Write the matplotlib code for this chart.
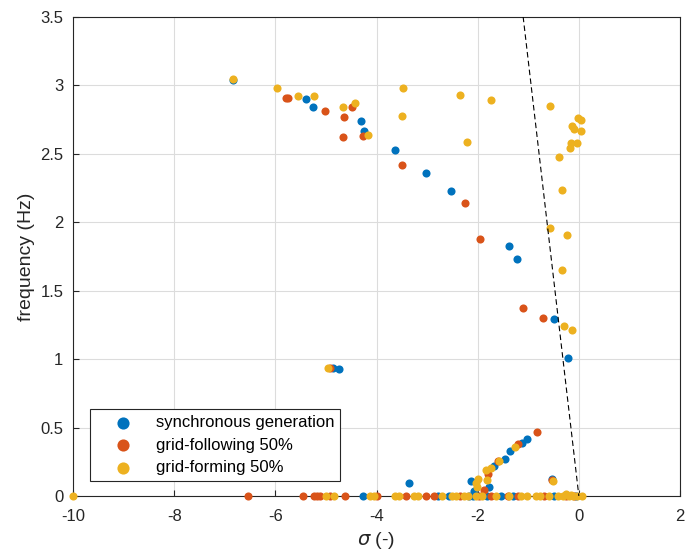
import numpy as np
import matplotlib
matplotlib.use("Agg")
import matplotlib.pyplot as plt

plt.rcParams['font.family'] = ['Liberation Sans', 'DejaVu Sans']
plt.rcParams['axes.unicode_minus'] = False

# synchronous generation
sg_sigma = [-6.83, -5.39, -5.25, -4.30, -4.25, -3.64, -3.03, -2.52, -1.38, -1.22, -0.49, -0.21,
            -4.86, -4.74, -3.35, -1.03, -1.13, -1.36, -1.46, -1.68, -1.77, -2.13, -2.07, -0.54,
            -4.26, -2.79, -2.57, -2.18, -2.10, -1.81, -1.54, -1.30, -0.49, -0.05]
sg_freq = [3.04, 2.90, 2.84, 2.74, 2.67, 2.53, 2.36, 2.23, 1.83, 1.73, 1.29, 1.01,
           0.935, 0.93, 0.097, 0.416, 0.39, 0.33, 0.27, 0.22, 0.063, 0.112, 0.036, 0.124,
           0, 0, 0, 0, 0, 0, 0, 0, 0, 0]

# grid-following 50%
gfl_sigma = [-5.78, -5.74, -5.02, -4.65, -4.49, -4.26, -4.67, -3.50, -2.26, -1.95, -1.10, -0.70,
             -4.92, -0.82, -1.20, -1.60, -1.79, -1.87, -0.53,
             -6.55, -5.45, -5.23, -5.17, -5.11, -4.92, -4.63, -4.00, -3.41, -3.03, -2.87,
             -2.34, -1.98, -1.73, -1.41, -1.21, -0.69, -0.26, -0.10]
gfl_freq = [2.91, 2.91, 2.81, 2.77, 2.84, 2.63, 2.62, 2.42, 2.14, 1.88, 1.375, 1.30,
            0.935, 0.465, 0.38, 0.255, 0.16, 0.044, 0.12,
            0, 0, 0, 0, 0, 0, 0, 0, 0, 0, 0,
            0, 0, 0, 0, 0, 0, 0, 0]

# grid-forming 50%
gfm_sigma = [-6.83, -5.97, -5.56, -5.23, -4.67, -4.43, -4.16, -3.47, -3.50, -2.34, -2.22, -1.74,
             -0.57, -0.026, 0.04, -0.145, -0.09, 0.04, -0.16, -0.03, -0.18, -0.39, -0.34, -0.57,
             -0.23, -0.34, -0.30, -0.145, -4.96, -1.27, -1.57, -1.74, -1.83, -1.82, -2.00, -2.04,
             -2.01, -0.52, -0.26, -0.15,
             -10.0, -4.99, -4.85, -4.12, -4.04, -3.64, -3.56, -3.26, -3.18, -2.70, -2.50, -2.42,
             -2.27, -2.19, -2.04, -1.91, -1.64, -1.38, -1.15, -1.03, -0.85, -0.77, -0.59, -0.42,
             -0.32, -0.19, -0.125, -0.03, 0.07]
gfm_freq = [3.05, 2.98, 2.92, 2.92, 2.84, 2.87, 2.635, 2.98, 2.78, 2.93, 2.59, 2.89,
            2.85, 2.76, 2.75, 2.70, 2.685, 2.67, 2.58, 2.576, 2.544, 2.48, 2.235, 1.955,
            1.905, 1.65, 1.24, 1.21, 0.935, 0.36, 0.258, 0.207, 0.19, 0.117, 0.122, 0.093,
            0.068, 0.112, 0.015, 0.01,
            0, 0, 0, 0, 0, 0, 0, 0, 0, 0, 0, 0,
            0, 0, 0, 0, 0, 0, 0, 0, 0, 0, 0, 0,
            0, 0, 0, 0, 0]

labels = ['synchronous generation', 'grid-following 50%', 'grid-forming 50%']
colors = ['#0072BD', '#D95319', '#EDB120']
zeta = 0.05

fig = plt.figure(figsize=(6.86, 5.55), dpi=100)
ax = fig.add_axes([0.1064, 0.1063, 0.8849, 0.8631])

for (xs, ys), lab, c in zip([(sg_sigma, sg_freq), (gfl_sigma, gfl_freq), (gfm_sigma, gfm_freq)], labels, colors):
    ax.scatter(xs, ys, s=34, color=c, label=lab, linewidths=0, zorder=3, clip_on=False)

sig = np.linspace(-1.3, 0, 50)
fd = -sig * np.sqrt(1 - zeta**2) / zeta / (2 * np.pi)
ax.plot(sig, fd, 'k--', lw=0.8, dashes=(5, 3), zorder=4)

ax.set_xlim(-10, 2)
ax.set_ylim(0, 3.5)
ax.set_xticks(np.arange(-10, 3, 2))
ax.set_yticks(np.arange(0, 3.51, 0.5))
ax.set_yticklabels(['0', '0.5', '1', '1.5', '2', '2.5', '3', '3.5'])
ax.grid(True, color='#dcdcdc', lw=0.8)
ax.set_axisbelow(True)
ax.tick_params(direction='in', length=4, labelsize=12, color='#262626', labelcolor='#262626')
ax.tick_params(axis='x', pad=9)
ax.tick_params(axis='y', pad=7)
for sp in ax.spines.values():
    sp.set_color('#262626')
    sp.set_linewidth(0.8)
ax.set_xlabel(r'$\sigma$ (-)', fontsize=14, color='#262626', labelpad=5)
ax.set_ylabel('frequency (Hz)', fontsize=14, color='#262626', labelpad=4)

leg = ax.legend(loc='lower left', bbox_to_anchor=(0.028, 0.031), borderaxespad=0, fontsize=12,
                frameon=True, fancybox=False, edgecolor='#262626', framealpha=1, markerscale=1.5,
                handletextpad=0.3, borderpad=0.35, labelspacing=0.45, handlelength=3.3)
leg.get_frame().set_linewidth(0.8)

fig.savefig('out.png', dpi=100)
